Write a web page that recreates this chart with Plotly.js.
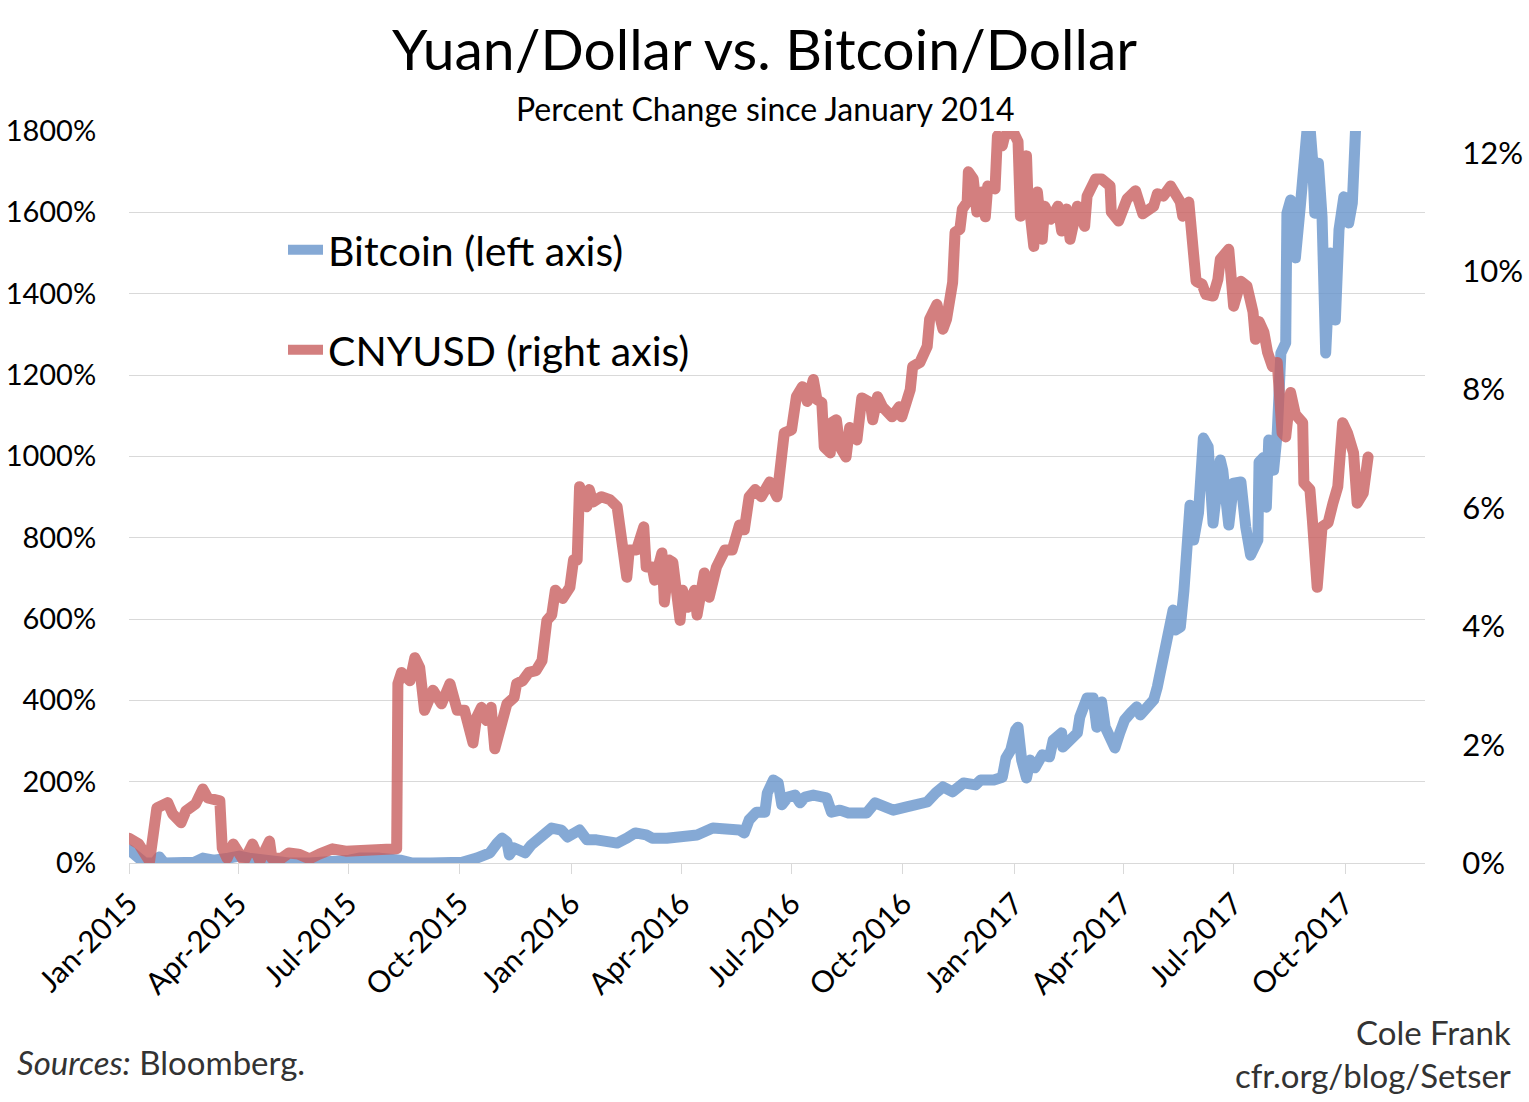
<!DOCTYPE html>
<html><head><meta charset="utf-8">
<script src="https://cdn.plot.ly/plotly-3.0.1.min.js"></script>
<style>html,body{margin:0;padding:0;background:#fff}#chart{width:1529px;height:1102px}
#chart .scatterlayer path.js-line{stroke-linejoin:round;stroke-linecap:round}</style>
</head><body><div id="chart"></div>
<script>
const FONT = 'Lato, "Noto Sans", sans-serif';

const cnyDates = ['2015-01-01','2015-01-09','2015-01-18','2015-01-20','2015-01-24','2015-02-02','2015-02-06','2015-02-13','2015-02-17','2015-02-25',
'2015-03-03','2015-03-07','2015-03-17','2015-03-19','2015-03-23','2015-03-28','2015-04-01','2015-04-06','2015-04-13','2015-04-19',
'2015-04-27','2015-04-29','2015-05-07','2015-05-13','2015-05-21','2015-05-30','2015-06-07','2015-06-18','2015-06-29','2015-07-04',
'2015-07-16','2015-07-26','2015-08-10','2015-08-11','2015-08-14','2015-08-21','2015-08-25','2015-08-29','2015-09-02','2015-09-09',
'2015-09-16','2015-09-23','2015-09-29','2015-10-05','2015-10-12','2015-10-15','2015-10-19','2015-10-23','2015-10-27','2015-10-30',
'2015-11-04','2015-11-09','2015-11-15','2015-11-17','2015-11-22','2015-11-27','2015-12-03','2015-12-08','2015-12-10','2015-12-12',
'2015-12-16','2015-12-19','2015-12-25','2015-12-31','2016-01-03','2016-01-06','2016-01-08','2016-01-14','2016-01-16','2016-01-19',
'2016-01-26','2016-02-02','2016-02-08','2016-02-16','2016-02-18','2016-02-24','2016-03-01','2016-03-03','2016-03-08','2016-03-10',
'2016-03-16','2016-03-18','2016-03-22','2016-03-25','2016-03-31','2016-04-02','2016-04-06','2016-04-12','2016-04-14','2016-04-20',
'2016-04-24','2016-04-30','2016-05-07','2016-05-13','2016-05-19','2016-05-23','2016-05-27','2016-06-01','2016-06-06','2016-06-13',
'2016-06-19','2016-06-23','2016-06-25','2016-07-01','2016-07-02','2016-07-05','2016-07-10','2016-07-14','2016-07-19','2016-07-22',
'2016-07-26','2016-07-28','2016-08-02','2016-08-03','2016-08-07','2016-08-10','2016-08-15','2016-08-18','2016-08-24','2016-08-28',
'2016-09-04','2016-09-06','2016-09-10','2016-09-14','2016-09-22','2016-09-28','2016-09-30','2016-10-07','2016-10-09','2016-10-15',
'2016-10-21','2016-10-23','2016-10-29','2016-11-03','2016-11-06','2016-11-11','2016-11-13','2016-11-17','2016-11-19','2016-11-23',
'2016-11-24','2016-11-28','2016-12-01','2016-12-05','2016-12-08','2016-12-10','2016-12-16','2016-12-18','2016-12-22','2016-12-24',
'2016-12-31','2017-01-04','2017-01-06','2017-01-11','2017-01-12','2017-01-17','2017-01-20','2017-01-24','2017-01-26','2017-01-31',
'2017-02-06','2017-02-09','2017-02-13','2017-02-16','2017-02-22','2017-02-28','2017-03-02','2017-03-09','2017-03-14','2017-03-21',
'2017-03-22','2017-03-28','2017-04-04','2017-04-11','2017-04-17','2017-04-26','2017-04-29','2017-05-04','2017-05-10','2017-05-18',
'2017-05-20','2017-05-25','2017-05-31','2017-06-05','2017-06-08','2017-06-14','2017-06-18','2017-06-20','2017-06-27','2017-07-01',
'2017-07-07','2017-07-12','2017-07-17','2017-07-19','2017-07-22','2017-07-26','2017-07-29','2017-08-02','2017-08-06','2017-08-10',
'2017-08-13','2017-08-17','2017-08-21','2017-08-27','2017-08-28','2017-09-02','2017-09-04','2017-09-08','2017-09-12','2017-09-17',
'2017-09-21','2017-09-25','2017-09-29','2017-10-03','2017-10-08','2017-10-11','2017-10-16','2017-10-20'];
const cnyValues = [0.42,0.32,0.03,0.37,0.93,1.02,0.83,0.68,0.88,1.00,
1.25,1.10,1.05,0.25,0.08,0.32,0.15,0.03,0.32,0.03,
0.37,0.08,0.08,0.17,0.15,0.07,0.15,0.24,0.20,0.20,
0.24,0.24,0.24,3.03,3.22,3.08,3.47,3.30,2.58,2.92,
2.69,3.03,2.58,2.58,2.03,2.46,2.63,2.41,2.63,1.93,
2.29,2.69,2.80,3.03,3.08,3.22,3.25,3.42,3.76,4.10,
4.19,4.61,4.47,4.66,5.12,5.12,6.36,6.02,6.31,6.10,
6.19,6.14,6.02,4.83,5.29,5.29,5.68,5.00,5.00,4.78,
5.24,4.41,5.12,5.08,4.10,4.61,4.32,4.61,4.19,4.90,
4.49,5.00,5.29,5.29,5.71,5.63,6.19,6.31,6.19,6.44,
6.19,6.81,7.27,7.32,7.49,7.88,8.05,7.80,8.17,7.83,
7.78,7.03,6.93,7.44,7.49,7.03,6.86,7.36,7.15,7.86,
7.78,7.49,7.88,7.71,7.54,7.71,7.54,8.00,8.39,8.46,
8.73,9.19,9.44,9.02,9.19,9.81,10.66,10.71,11.05,11.17,
11.68,11.56,11.00,11.34,10.92,11.44,11.39,12.29,12.12,12.29,
12.36,12.19,10.93,11.95,11.34,10.42,11.34,10.54,11.10,10.88,
11.10,10.68,11.05,10.54,11.10,10.76,11.27,11.56,11.56,11.44,
11.00,10.85,11.22,11.36,10.97,11.10,11.31,11.27,11.44,11.17,
10.93,11.17,9.83,9.78,9.61,9.58,9.86,10.20,10.37,9.41,
9.83,9.75,9.31,8.85,9.15,8.97,8.63,8.39,8.46,7.27,
7.20,7.95,7.58,7.44,6.42,6.31,5.80,4.66,5.68,5.75,
6.08,6.36,7.44,7.27,6.93,6.08,6.25,6.86];

const btcDates = ['2015-01-01','2015-01-07','2015-01-14','2015-01-22','2015-01-26','2015-01-30','2015-02-11','2015-02-24','2015-03-03','2015-03-12',
'2015-03-24','2015-04-02','2015-04-10','2015-04-19','2015-05-01','2015-05-13','2015-05-30','2015-06-16','2015-07-02','2015-07-10',
'2015-07-23','2015-07-27','2015-08-13','2015-08-23','2015-09-07','2015-10-03','2015-10-15','2015-10-26','2015-11-01','2015-11-05',
'2015-11-09','2015-11-11','2015-11-15','2015-11-24','2015-11-29','2015-12-03','2015-12-10','2015-12-16','2015-12-24','2015-12-29',
'2016-01-08','2016-01-14','2016-01-22','2016-02-01','2016-02-08','2016-02-16','2016-02-23','2016-03-03','2016-03-08','2016-03-20',
'2016-03-31','2016-04-14','2016-04-27','2016-05-09','2016-05-19','2016-05-23','2016-05-27','2016-06-02','2016-06-09','2016-06-11',
'2016-06-16','2016-06-20','2016-06-23','2016-06-28','2016-07-04','2016-07-08','2016-07-12','2016-07-19','2016-07-30','2016-08-03',
'2016-08-10','2016-08-17','2016-08-24','2016-09-01','2016-09-08','2016-09-14','2016-09-23','2016-10-04','2016-10-15','2016-10-21',
'2016-10-28','2016-11-03','2016-11-11','2016-11-20','2016-11-30','2016-12-04','2016-12-15','2016-12-22','2016-12-25','2016-12-29',
'2017-01-02','2017-01-04','2017-01-07','2017-01-11','2017-01-14','2017-01-18','2017-01-24','2017-01-30','2017-02-02','2017-02-09',
'2017-02-10','2017-02-16','2017-02-22','2017-02-24','2017-03-02','2017-03-07','2017-03-10','2017-03-14','2017-03-17','2017-03-22',
'2017-03-25','2017-03-29','2017-04-02','2017-04-07','2017-04-12','2017-04-15','2017-04-20','2017-04-26','2017-04-29','2017-05-04',
'2017-05-08','2017-05-12','2017-05-14','2017-05-18','2017-05-21','2017-05-24','2017-05-26','2017-05-29','2017-06-02','2017-06-06',
'2017-06-10','2017-06-14','2017-06-20','2017-06-22','2017-06-27','2017-07-01','2017-07-07','2017-07-11','2017-07-15','2017-07-21',
'2017-07-22','2017-07-26','2017-07-28','2017-07-30','2017-08-03','2017-08-06','2017-08-09','2017-08-13','2017-08-14','2017-08-17',
'2017-08-21','2017-08-25','2017-08-28','2017-09-01','2017-09-04','2017-09-06','2017-09-09','2017-09-12','2017-09-15','2017-09-19',
'2017-09-23','2017-09-26','2017-09-30','2017-10-04','2017-10-07','2017-10-14'];
const btcValues = [32,15,0,0,15,0,0,2,12,7,
12,17,12,7,2,0,0,2,7,12,
7,12,7,0,0,2,12,25,49,61,
52,20,37,25,44,52,69,86,81,64,
81,57,57,49,49,61,74,69,61,61,
64,69,86,84,81,74,106,125,125,172,
204,197,143,162,167,148,162,167,160,125,
130,123,125,123,148,138,130,138,150,150,
172,187,175,197,192,204,204,211,258,278,
327,334,253,209,253,234,266,261,302,320,
285,302,320,359,406,406,334,396,334,302,
283,320,352,369,384,364,381,401,433,499,
573,622,573,580,671,777,880,794,861,1045,
1023,836,991,966,831,934,937,826,757,794,
986,998,875,1040,966,1057,1254,1279,1598,1630,
1488,1613,1729,1850,1736,1598,1721,1589,1254,1500,
1335,1557,1638,1574,1623,2100];

const tickDates = ['2015-01-01','2015-04-01','2015-07-01','2015-10-01','2016-01-01','2016-04-01','2016-07-01','2016-10-01','2017-01-01','2017-04-01','2017-07-01','2017-10-01'];
const tickLabels = ['Jan-2015','Apr-2015','Jul-2015','Oct-2015','Jan-2016','Apr-2016','Jul-2016','Oct-2016','Jan-2017','Apr-2017','Jul-2017','Oct-2017'];
const leftTicks = [0,200,400,600,800,1000,1200,1400,1600,1800];
const rightTicks = [0,2,4,6,8,10,12];

const BLUE = 'rgba(106,150,204,0.82)';
const RED = 'rgba(200,95,95,0.8)';

const traces = [
  {x: btcDates, y: btcValues, type: 'scatter', mode: 'lines', name: 'Bitcoin (left axis)',
   line: {color: BLUE, width: 11}, yaxis: 'y', legend: 'legend'},
  {x: cnyDates, y: cnyValues, type: 'scatter', mode: 'lines', name: 'CNYUSD (right axis)',
   line: {color: RED, width: 11}, yaxis: 'y2', legend: 'legend2'}
];

const layout = {
  width: 1529, height: 1102,
  margin: {l: 129, r: 104, t: 131, b: 239},
  paper_bgcolor: '#fff', plot_bgcolor: '#fff',
  font: {family: FONT, color: '#000'},
  showlegend: true,
  title: {text: 'Yuan/Dollar vs. Bitcoin/Dollar', x: 0.5, xanchor: 'center', y: 1 - 50/1102, yref: 'container', yanchor: 'middle',
          font: {family: FONT, size: 57, color: '#000'}},
  xaxis: {type: 'date', range: ['2015-01-01', '2017-12-06'], tickmode: 'array', tickvals: tickDates, ticktext: tickLabels,
          tickangle: -45, tickfont: {size: 30, family: FONT}, showgrid: false, showline: true, linecolor: '#d9d9d9', linewidth: 1,
          ticks: 'outside', ticklen: 10, tickcolor: '#d9d9d9', zeroline: false, fixedrange: true},
  yaxis: {range: [0, 1800], tickmode: 'array', tickvals: leftTicks, ticktext: leftTicks.map(v => v + '%'),
          tickfont: {size: 29, family: FONT}, showgrid: true, gridcolor: '#d9d9d9', gridwidth: 1, zeroline: false,
          ticks: 'outside', ticklen: 26, tickcolor: 'rgba(0,0,0,0)', showline: false},
  yaxis2: {overlaying: 'y', side: 'right', range: [0, 12.37], tickmode: 'array', tickvals: rightTicks, ticktext: rightTicks.map(v => v + '%'),
          tickfont: {size: 31, family: FONT}, showgrid: false, zeroline: false, ticks: 'outside', ticklen: 30,
          tickcolor: 'rgba(0,0,0,0)', showline: false},
  legend: {x: (283 - 129) / 1296, y: (863 - 250) / 732, xanchor: 'left', yanchor: 'middle', bgcolor: 'rgba(0,0,0,0)',
           font: {size: 41, family: FONT, color: '#000'}, itemwidth: 35},
  legend2: {x: (283 - 129) / 1296, y: (863 - 350) / 732, xanchor: 'left', yanchor: 'middle', bgcolor: 'rgba(0,0,0,0)',
           font: {size: 41, family: FONT, color: '#000'}, itemwidth: 35},
  annotations: [
    {text: 'Percent Change since January 2014', xref: 'paper', yref: 'paper', x: 0.491, y: (863 - 108) / 732,
     xanchor: 'center', yanchor: 'middle', showarrow: false, font: {size: 32, family: FONT, color: '#000'}},
    {text: '<i>Sources:</i> Bloomberg.', xref: 'paper', yref: 'paper', x: (15 - 129) / 1296, y: (863 - 1062) / 732,
     xanchor: 'left', yanchor: 'middle', showarrow: false, font: {size: 33, family: FONT, color: '#333'}},
    {text: 'Cole Frank', xref: 'paper', yref: 'paper', x: (1513 - 129) / 1296, y: (863 - 1032) / 732,
     xanchor: 'right', yanchor: 'middle', showarrow: false, font: {size: 33, family: FONT, color: '#333'}},
    {text: 'cfr.org/blog/Setser', xref: 'paper', yref: 'paper', x: (1513 - 129) / 1296, y: (863 - 1075) / 732,
     xanchor: 'right', yanchor: 'middle', showarrow: false, font: {size: 33, family: FONT, color: '#333'}}
  ]
};

Plotly.newPlot('chart', traces, layout, {displayModeBar: false, staticPlot: true});
</script>
</body></html>
